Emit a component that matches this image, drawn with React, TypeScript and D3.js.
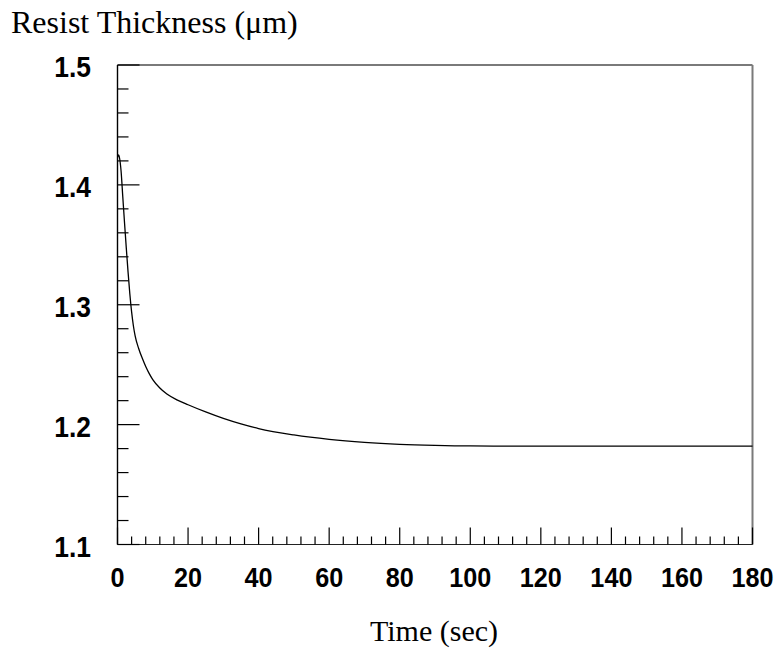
import React from "react";
import * as d3 from "d3";

const timeSec = [0, 0.3, 0.6, 1, 1.5, 2, 2.5, 3, 3.5, 4, 4.5, 5, 6, 7, 8, 9, 10, 12, 14, 17, 20, 25, 30, 35, 40, 50, 60, 70, 80, 90, 100, 120, 140, 160, 180];
const thickness = [1.423, 1.425, 1.422, 1.412, 1.39, 1.368, 1.347, 1.327, 1.309, 1.294, 1.2825, 1.274, 1.2635, 1.2555, 1.2485, 1.2425, 1.2375, 1.2305, 1.2255, 1.2205, 1.2166, 1.2106, 1.2052, 1.2006, 1.1967, 1.1914, 1.1877, 1.1852, 1.1836, 1.1827, 1.1822, 1.182, 1.182, 1.182, 1.182];

const xMajorTicks = [0, 20, 40, 60, 80, 100, 120, 140, 160, 180];
const yMajorTicks = [1.1, 1.2, 1.3, 1.4, 1.5];
const yTickLabels = ["1.1", "1.2", "1.3", "1.4", "1.5"];
const xMinorStep = 4;
const yMinorStep = 0.02;

const W = 777;
const H = 650;

export default function App() {
  const x = d3.scaleLinear().domain([0, 180]).range([117.5, 752.5]);
  const y = d3.scaleLinear().domain([1.1, 1.5]).range([544.5, 65]);
  const xMinor = d3.range(0, 180 + 1e-9, xMinorStep).filter((v) => Math.abs(v % 20) > 1e-6);
  const yMinor = d3.range(1.1, 1.5 + 1e-9, yMinorStep).filter((v) => {
    const r = Math.round(v * 100) % 10;
    return r !== 0;
  });
  const line = d3
    .line<number>()
    .x((_, i) => x(timeSec[i]))
    .y((d) => y(d))
    .curve(d3.curveMonotoneX);
  const L = x(0), R = x(180), T = y(1.5), B = y(1.1);
  const sans = "'Liberation Sans', Arial, sans-serif";
  const serif = "'Liberation Serif', 'Times New Roman', serif";
  return (
    <svg width={W} height={H} style={{ position: "absolute", left: 0, top: 0, background: "#fff" }}>
      <rect x={0} y={0} width={W} height={H} fill="#fff" />
      {/* frame */}
      <line x1={L} x2={R} y1={T} y2={T} stroke="#7a7a7a" strokeWidth={2} />
      <line x1={R} x2={R} y1={T} y2={B} stroke="#7a7a7a" strokeWidth={2} />
      <line x1={L} x2={R} y1={B} y2={B} stroke="#222" strokeWidth={1.2} />
      <line x1={L} x2={L} y1={T} y2={B} stroke="#000" strokeWidth={1.4} />
      {/* y ticks */}
      {yMajorTicks.map((v) => (
        <line key={"ym" + v} x1={L} x2={L + 22} y1={y(v)} y2={y(v)} stroke="#000" strokeWidth={1.2} />
      ))}
      {yMinor.map((v) => (
        <line key={"yn" + v} x1={L} x2={L + 11} y1={y(v)} y2={y(v)} stroke="#000" strokeWidth={1.2} />
      ))}
      {/* x ticks */}
      {xMajorTicks.map((v) => (
        <line key={"xm" + v} x1={x(v)} x2={x(v)} y1={B} y2={B - 17} stroke="#000" strokeWidth={1.2} />
      ))}
      {xMinor.map((v) => (
        <line key={"xn" + v} x1={x(v)} x2={x(v)} y1={B} y2={B - 8} stroke="#000" strokeWidth={1.2} />
      ))}
      {/* y tick labels */}
      {yMajorTicks.map((v, i) => (
        <text
          key={"yl" + v}
          transform={`translate(91,${y(v) + 12}) scale(0.88,1)`}
          textAnchor="end"
          fontFamily={sans}
          fontWeight="bold"
          fontSize={30}
        >
          {yTickLabels[i]}
        </text>
      ))}
      {/* x tick labels */}
      {xMajorTicks.map((v) => (
        <text
          key={"xl" + v}
          transform={`translate(${x(v)},587) scale(0.9,1)`}
          textAnchor="middle"
          fontFamily={sans}
          fontWeight="bold"
          fontSize={28}
        >
          {String(v)}
        </text>
      ))}
      {/* curve */}
      <path d={line(thickness) || ""} fill="none" stroke="#000" strokeWidth={1.3} />
      {/* titles */}
      <text x={11} y={33} fontFamily={serif} fontSize={32}>
        Resist Thickness (μm)
      </text>
      <text x={434} y={641} textAnchor="middle" fontFamily={serif} fontSize={30}>
        Time (sec)
      </text>
    </svg>
  );
}
